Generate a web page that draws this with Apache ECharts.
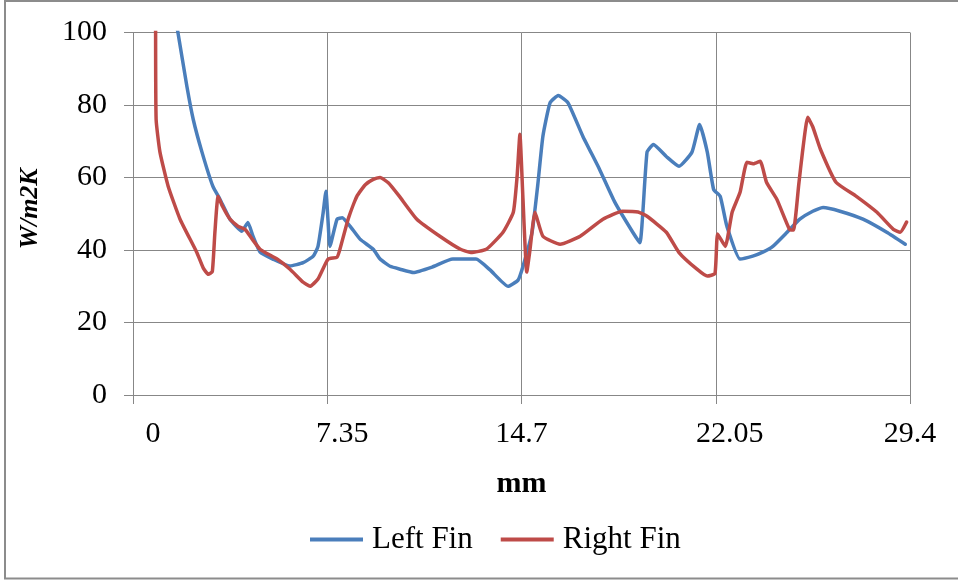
<!DOCTYPE html>
<html>
<head>
<meta charset="utf-8">
<script src="https://cdn.jsdelivr.net/npm/echarts@6/dist/echarts.min.js"></script>
<style>
  html, body { margin: 0; padding: 0; background: #ffffff; }
  #chart { width: 958px; height: 583px; }
</style>
</head>
<body>
<div id="chart"></div>
<script>
// ---- Data ----
const seriesNames = ['Left Fin', 'Right Fin'];
const xTickLabels = ['0', '7.35', '14.7', '22.05', '29.4'];
const yTickLabels = ['0', '20', '40', '60', '80', '100'];

const leftFinX = [1.62, 1.70, 2.04, 2.28, 2.61, 3.02, 3.29, 3.67, 4.12, 4.35, 4.54, 4.81, 5.29, 5.94, 6.44, 6.82, 7.00, 7.19, 7.30, 7.38, 7.45, 7.72, 7.92, 8.21, 8.59, 9.09, 9.35, 9.73, 10.11, 10.61, 11.32, 12.10, 12.98, 13.51, 14.19, 14.57, 14.76, 15.10, 15.31, 15.51, 15.78, 16.09, 16.46, 17.02, 17.65, 18.23, 18.91, 19.18, 19.45, 19.69, 20.18, 20.66, 21.15, 21.44, 21.73, 21.97, 22.22, 22.47, 22.97, 23.45, 23.83, 24.21, 24.75, 25.23, 25.72, 26.11, 26.75, 27.62, 28.52, 29.22];
const leftFinY = [103, 100, 85.1, 76, 67, 57.6, 54, 48.5, 45.2, 47.6, 43.8, 39.4, 37.5, 35.6, 36.5, 38.3, 41, 50, 56.2, 48, 41, 48.5, 48.9, 46.6, 43, 40.2, 37.5, 35.5, 34.7, 33.8, 35.3, 37.5, 37.5, 34.5, 30, 31.7, 35.6, 44.9, 57.6, 71.4, 80.6, 82.6, 80.6, 71.4, 62.3, 53.2, 44.9, 42, 67, 69.1, 65.8, 63.1, 67, 74.6, 67, 56.7, 54.8, 46.6, 37.5, 38.3, 39.4, 41, 44.9, 48.5, 50.7, 51.7, 50.7, 48.5, 44.9, 41.6];

const rightFinX = [0.855, 0.875, 1.02, 1.33, 1.78, 2.41, 2.66, 2.85, 3.00, 3.10, 3.22, 3.39, 3.67, 3.98, 4.24, 4.51, 4.81, 5.45, 5.94, 6.44, 6.70, 7.00, 7.38, 7.72, 7.83, 8.14, 8.47, 8.79, 9.09, 9.35, 9.67, 10.06, 10.74, 11.61, 12.39, 12.78, 13.37, 14.00, 14.39, 14.53, 14.64, 14.75, 14.90, 15.02, 15.21, 15.51, 16.16, 16.92, 17.78, 18.52, 19.11, 19.45, 20.18, 20.66, 21.34, 21.73, 22.02, 22.12, 22.41, 22.67, 22.97, 23.23, 23.48, 23.73, 23.97, 24.36, 24.84, 24.99, 25.19, 25.33, 25.53, 25.72, 26.01, 26.60, 27.37, 28.15, 28.77, 29.03, 29.27];
const rightFinY = [104, 76, 67, 57.6, 48.5, 39.4, 35, 33.3, 34, 45, 54.8, 52, 48.5, 46.5, 45.7, 43, 40.2, 37.5, 34.7, 31.1, 30, 32, 37.5, 38, 40.2, 48.5, 54.8, 58, 59.5, 60, 58.5, 55, 48.5, 43.8, 40.2, 39.3, 40.2, 44.9, 50.4, 60, 71.9, 55, 33.9, 40, 50.4, 43.8, 41.6, 43.8, 48.5, 50.7, 50.5, 49.3, 44.9, 39.3, 34.7, 32.8, 33.5, 44.4, 41, 50.4, 55.9, 64.2, 63.8, 64.5, 58.7, 54, 45.7, 45.5, 58, 66.9, 76.6, 74, 67.8, 58.7, 54.8, 50.4, 45.7, 44.9, 47.7];

// ---- Styles ----
const FONT = '"Liberation Serif", "Times New Roman", serif';
const GRID_COLOR = '#878787';
const BLUE = '#4a7ebb';
const RED = '#be4b48';
// label horizontal offsets seen in the reference (padding on the left shifts glyphs right)
const xLabelPad = [40, 30, 0, 28, 0];

const pairs = (xs, ys) => xs.map((x, i) => [x, ys[i]]);

const richStyles = {};
xLabelPad.forEach((p, i) => {
  richStyles['p' + i] = { padding: [0, 0, 0, p], fontSize: 30, fontFamily: FONT, color: '#000' };
});

const chart = echarts.init(document.getElementById('chart'), null, { renderer: 'canvas' });
chart.setOption({
  animation: false,
  backgroundColor: '#ffffff',
  textStyle: { fontFamily: FONT, color: '#000' },
  graphic: [{
    type: 'rect',
    shape: { x: 5, y: 1, width: 962, height: 577.5 },
    style: { fill: 'none', stroke: '#8c8c8c', lineWidth: 2 },
    silent: true
  }],
  grid: { left: 133, right: 48, top: 32.5, bottom: 188, containLabel: false },
  legend: {
    data: seriesNames,
    left: 305,
    top: 519,
    icon: 'rect',
    itemWidth: 53,
    itemHeight: 4,
    itemGap: 28,
    textStyle: { fontFamily: FONT, fontSize: 31, color: '#000', padding: [0, 0, 0, 4] }
  },
  xAxis: {
    type: 'value',
    min: 0,
    max: 29.4,
    interval: 7.35,
    name: 'mm',
    nameLocation: 'middle',
    nameGap: 74,
    nameTextStyle: { fontFamily: FONT, fontSize: 30, fontWeight: 'bold', color: '#000' },
    axisLine: { show: true, lineStyle: { color: GRID_COLOR, width: 1 } },
    axisTick: { show: true, length: 9, inside: false, lineStyle: { color: GRID_COLOR } },
    splitLine: { show: true, lineStyle: { color: GRID_COLOR, width: 1 } },
    axisLabel: {
      margin: 24,
      fontFamily: FONT,
      fontSize: 30,
      color: '#000',
      showMinLabel: true,
      showMaxLabel: true,
      formatter: function (v, i) {
        const idx = Math.round(v / 7.35);
        return '{p' + idx + '|' + xTickLabels[idx] + '}';
      },
      rich: richStyles
    }
  },
  yAxis: {
    type: 'value',
    min: 0,
    max: 100,
    interval: 20,
    name: 'W/m2K',
    nameLocation: 'middle',
    nameGap: 90,
    nameTextStyle: { fontFamily: FONT, fontSize: 26, fontWeight: 'bold', fontStyle: 'italic', color: '#000', padding: [0, 0, 0, 10] },
    axisLine: { show: true, lineStyle: { color: GRID_COLOR, width: 1 } },
    axisTick: { show: true, length: 9, inside: false, lineStyle: { color: GRID_COLOR } },
    splitLine: { show: true, lineStyle: { color: GRID_COLOR, width: 1 } },
    axisLabel: {
      margin: 26,
      fontFamily: FONT,
      fontSize: 30,
      color: '#000',
      formatter: function (v) {
        const idx = Math.round(v / 20);
        return yTickLabels[idx];
      }
    }
  },
  series: [
    {
      name: seriesNames[0],
      type: 'line',
      data: pairs(leftFinX, leftFinY),
      showSymbol: false,
      symbol: 'none',
      smooth: 0.15,
      clip: true,
      lineStyle: { color: BLUE, width: 3.5, join: 'round', cap: 'round' },
      itemStyle: { color: BLUE },
      z: 3
    },
    {
      name: seriesNames[1],
      type: 'line',
      data: pairs(rightFinX, rightFinY),
      showSymbol: false,
      symbol: 'none',
      smooth: 0.15,
      clip: true,
      lineStyle: { color: RED, width: 3.5, join: 'round', cap: 'round' },
      itemStyle: { color: RED },
      z: 4
    }
  ]
});
</script>
</body>
</html>
